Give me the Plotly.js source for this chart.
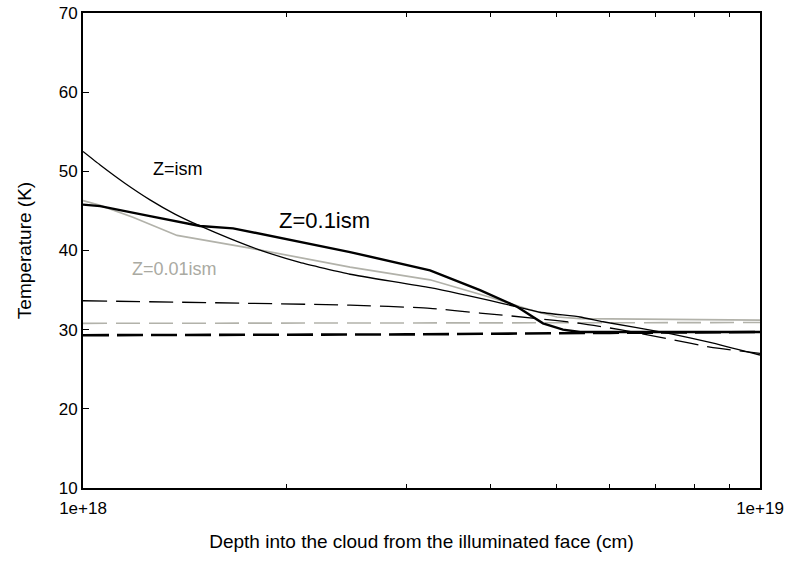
<!DOCTYPE html>
<html>
<head>
<meta charset="utf-8">
<script src="https://cdn.plot.ly/plotly-3.0.1.min.js"></script>
<style>html,body{margin:0;padding:0;background:#fff;}#chart{width:788px;height:564px;}</style>
</head>
<body>
<div id="chart"></div>
<script>
// Depth values are in units of 1e18 cm
const ismSolidX = [1.0, 1.06, 1.153, 1.256, 1.367, 1.489, 1.649, 1.826, 2.09, 2.48, 3.255, 4.173, 4.732, 5.423, 5.863, 7.363, 8.437, 10.0];
const ismSolidT = [52.5, 50.8, 48.5, 46.4, 44.6, 43.1, 41.5, 40.05, 38.5, 37.0, 35.3, 33.3, 32.2, 31.6, 31.0, 29.5, 28.4, 26.8];

const z01SolidX = [1.0, 1.06, 1.256, 1.489, 1.666, 2.022, 2.48, 3.255, 3.858, 4.377, 4.78, 5.117, 5.423, 10.0];
const z01SolidT = [45.8, 45.6, 44.35, 43.1, 42.8, 41.35, 39.8, 37.5, 35.0, 32.9, 30.8, 30.0, 29.7, 29.7];

const z001SolidX = [1.0, 1.06, 1.185, 1.377, 1.765, 2.48, 3.255, 3.993, 4.574, 5.013, 5.423, 10.0];
const z001SolidT = [46.3, 45.7, 44.2, 41.9, 40.3, 37.9, 36.3, 34.1, 32.5, 31.6, 31.4, 31.2];

const ismDashX = [1.0, 2.48, 3.255, 3.858, 4.574, 5.423, 6.211, 7.363, 8.437, 10.0];
const ismDashT = [33.65, 33.1, 32.7, 32.1, 31.5, 30.8, 30.0, 28.8, 27.8, 27.0];

const z001DashX = [1.0, 10.0];
const z001DashT = [30.8, 30.9];

const z01DashX = [1.0, 3.0, 6.0, 10.0];
const z01DashT = [29.3, 29.4, 29.6, 29.7];

const xTickVals = [1, 2, 3, 4, 5, 6, 7, 8, 9, 10];
const xTickText = ['1e+18', '', '', '', '', '', '', '', '', '1e+19'];
const yTickVals = [10, 20, 30, 40, 50, 60, 70];

const labels = [
  {text: 'Z=ism', x: 1.381, y: 50.3, size: 18, color: '#000000'},
  {text: 'Z=0.1ism', x: 2.277, y: 43.8, size: 22, color: '#000000'},
  {text: 'Z=0.01ism', x: 1.367, y: 37.65, size: 18, color: '#aaaaa2'}
];

const scale = v => v.map(x => x * 1e18);
const GRAY = '#b2b2aa';

const traces = [
  {x: scale(z001DashX), y: z001DashT, mode: 'lines', line: {color: GRAY, width: 1.6, dash: '24px,9px'}},
  {x: scale(z01DashX), y: z01DashT, mode: 'lines', line: {color: '#000', width: 2.6, dash: '26px,8px'}},
  {x: scale(ismDashX), y: ismDashT, mode: 'lines', line: {color: '#000', width: 1.3, dash: '24px,9px', shape: 'spline', smoothing: 0.5}},
  {x: scale(z001SolidX), y: z001SolidT, mode: 'lines', line: {color: GRAY, width: 1.7}},
  {x: scale(ismSolidX), y: ismSolidT, mode: 'lines', line: {color: '#000', width: 1.3, shape: 'spline', smoothing: 0.4}},
  {x: scale(z01SolidX), y: z01SolidT, mode: 'lines', line: {color: '#000', width: 2.4}}
];

const FONT = 'Liberation Sans, Arial, Helvetica, sans-serif';

const layout = {
  width: 788, height: 564,
  margin: {l: 83, r: 28, t: 13, b: 76},
  paper_bgcolor: '#fff', plot_bgcolor: '#fff',
  showlegend: false,
  font: {family: FONT, color: '#000', size: 17},
  xaxis: {
    type: 'log',
    range: [18, 19],
    tickvals: scale(xTickVals),
    ticktext: xTickText,
    ticks: 'inside', ticklen: 4, tickwidth: 1, tickcolor: '#000',
    ticklabelstandoff: 4,
    showline: true, linecolor: '#000', linewidth: 2, mirror: 'ticks',
    showgrid: false, zeroline: false,
    tickfont: {size: 17},
    title: {text: 'Depth into the cloud from the illuminated face (cm)', font: {size: 19}, standoff: 17}
  },
  yaxis: {
    range: [10, 70],
    tickvals: yTickVals,
    ticks: 'inside', ticklen: 6, tickwidth: 1, tickcolor: '#000',
    showline: true, linecolor: '#000', linewidth: 2, mirror: true,
    showgrid: false, zeroline: false,
    tickfont: {size: 17},
    title: {text: 'Temperature (K)', font: {size: 19}, standoff: 22}
  },
  annotations: labels.map(l => ({
    text: l.text, x: Math.log10(l.x * 1e18), y: l.y, xref: 'x', yref: 'y',
    showarrow: false, font: {size: l.size, color: l.color, family: FONT}
  }))
};

Plotly.newPlot('chart', traces, layout, {displayModeBar: false, staticPlot: true});
</script>
</body>
</html>
